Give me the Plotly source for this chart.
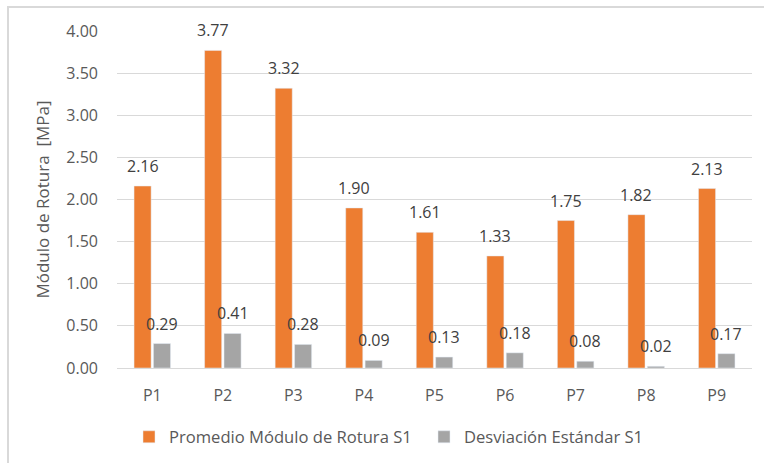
import plotly.graph_objects as go

categories = ["P1", "P2", "P3", "P4", "P5", "P6", "P7", "P8", "P9"]
promedio = [2.16, 3.77, 3.32, 1.90, 1.61, 1.33, 1.75, 1.82, 2.13]
desviacion = [0.29, 0.41, 0.28, 0.09, 0.13, 0.18, 0.08, 0.02, 0.17]
y_ticks = [0, 0.5, 1.0, 1.5, 2.0, 2.5, 3.0, 3.5, 4.0]

name1 = "Promedio Módulo de Rotura S1"
name2 = "Desviación Estándar S1"
orange = "#ED7D31"
gray = "#A5A5A5"
font = "Open Sans"

W, H = 764, 463
L, R, T, B = 117, 12, 31, 95
pw, ph = W - L - R, H - T - B

fig = go.Figure()
fig.add_trace(go.Bar(x=categories, y=promedio, name=name1, marker_color=orange))
fig.add_trace(go.Bar(x=categories, y=desviacion, name=name2, marker_color=gray))

bargap, groupgap = 0.45, 0.12
slot = pw / len(categories) * (1 - bargap) / 2
ann = []
for c, v in zip(categories, promedio):
    ann.append(dict(x=c, y=v, text=f"{v:.2f}", showarrow=False, xshift=-slot / 2,
                    yshift=20, font=dict(family=font, size=16, color="#404040")))
for c, v in zip(categories, desviacion):
    ann.append(dict(x=c, y=v, text=f"{v:.2f}", showarrow=False, xshift=slot / 2,
                    yshift=20, font=dict(family=font, size=16, color="#404040")))

def px(xp):
    return (xp - L) / pw

def py(yp):
    return (H - B - yp) / ph

border = "#D9D9D9"
shapes = [
    dict(type="rect", xref="paper", yref="paper", x0=px(8), x1=px(790), y0=py(7), y1=py(490),
         line=dict(color=border, width=2), fillcolor="rgba(0,0,0,0)", layer="below"),
]

fig.update_layout(
    width=W, height=H,
    margin=dict(l=L, r=R, t=T, b=B, autoexpand=False),
    paper_bgcolor="white", plot_bgcolor="white",
    barmode="group", bargap=bargap, bargroupgap=groupgap,
    font=dict(family=font, size=16, color="#595959"),
    annotations=ann,
    shapes=shapes,
    legend=dict(orientation="h", x=px(129), xanchor="left", y=py(437), yanchor="middle",
                font=dict(family=font, size=16.6, color="#595959"), itemwidth=30,
                entrywidth=250),
    xaxis=dict(showgrid=False, showline=True, linecolor="#D9D9D9", linewidth=1,
               ticks="", ticklabelstandoff=13, tickfont=dict(size=16), automargin=False),
    yaxis=dict(range=[0, 4], tickvals=y_ticks, tickformat=".2f", showgrid=True,
               gridcolor="#D9D9D9", gridwidth=1, zeroline=False, showline=False,
               ticklabelstandoff=18, tickfont=dict(size=16), automargin=False,
               title=dict(text="Módulo de Rotura  [MPa]", standoff=12,
                          font=dict(family=font, size=17, color="#595959"))),
)

fig.write_html("out.html", config={"displayModeBar": False},
               post_script="document.body.style.margin='0px';"
                           "document.body.style.overflow='hidden';")
